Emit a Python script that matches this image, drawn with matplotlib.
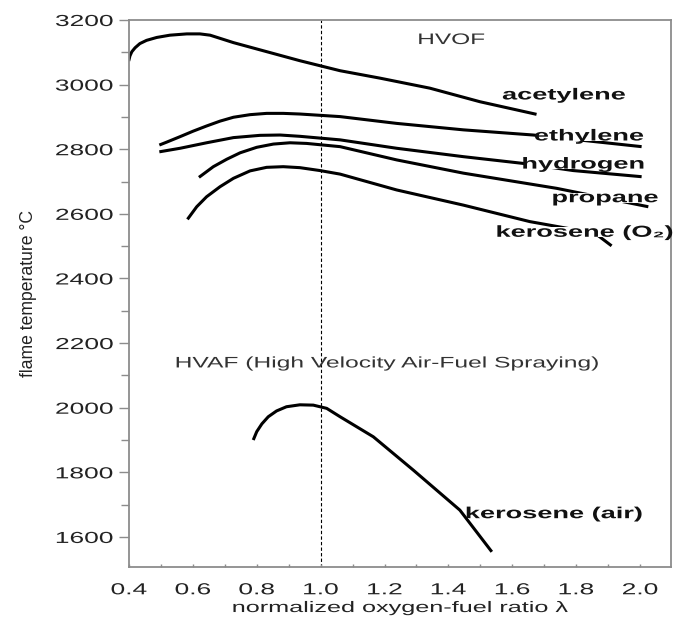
import numpy as np
import matplotlib
matplotlib.use("Agg")
import matplotlib.pyplot as plt
from matplotlib.patheffects import AbstractPathEffect
from matplotlib.transforms import Affine2D
from matplotlib.ticker import MultipleLocator

# flame temperature (degC) vs normalized oxygen-fuel ratio
acet_x = [0.399, 0.403, 0.409, 0.419, 0.434, 0.455, 0.487, 0.528, 0.581, 0.622, 0.654,
          0.727, 0.831, 0.935, 1.061, 1.186, 1.342, 1.499, 1.676]
acet_y = [3073, 3089, 3102, 3114, 3127, 3137, 3146, 3153, 3157, 3157, 3153,
          3130, 3102, 3074, 3043, 3020, 2989, 2947, 2908]

ethy_x = [0.495, 0.518, 0.56, 0.601, 0.643, 0.685, 0.727, 0.779, 0.831, 0.883, 0.935,
          0.998, 1.061, 1.238, 1.447, 1.666, 2.005]
ethy_y = [2813, 2822, 2839, 2856, 2872, 2887, 2899, 2907, 2911, 2911, 2909,
          2905, 2901, 2880, 2860, 2844, 2808]

hydr_x = [0.495, 0.56, 0.643, 0.727, 0.81, 0.873, 0.935, 1.061, 1.238, 1.447, 1.635, 1.791, 2.005]
hydr_y = [2792, 2803, 2820, 2836, 2843, 2844, 2840, 2829, 2803, 2777, 2756, 2734, 2715]

prop_x = [0.619, 0.664, 0.706, 0.748, 0.8, 0.852, 0.904, 0.956, 1.061, 1.238, 1.447, 1.739, 2.026]
prop_y = [2713, 2746, 2769, 2789, 2806, 2816, 2820, 2818, 2808, 2767, 2726, 2679, 2622]

kero_x = [0.583, 0.612, 0.643, 0.685, 0.727, 0.779, 0.831, 0.883, 0.935, 0.998, 1.061,
          1.238, 1.447, 1.655, 1.859, 1.911]
kero_y = [2583, 2622, 2653, 2684, 2710, 2733, 2744, 2746, 2743, 2734, 2723,
          2674, 2627, 2576, 2540, 2501]

air_x = [0.789, 0.8, 0.816, 0.836, 0.862, 0.893, 0.935, 0.977, 1.019, 1.061, 1.165,
         1.29, 1.436, 1.536]
air_y = [1900, 1926, 1950, 1972, 1990, 2003, 2009, 2008, 1998, 1972, 1910,
         1807, 1683, 1554]

curves = [(acet_x, acet_y), (ethy_x, ethy_y), (hydr_x, hydr_y),
          (prop_x, prop_y), (kero_x, kero_y), (air_x, air_y)]

labels = ["acetylene", "ethylene", "hydrogen", "propane", "kerosene (O\u2082)", "kerosene (air)"]
label_x = [1.569, 1.669, 1.631, 1.725, 1.55, 1.454]
label_y = [2968, 2841, 2754, 2650, 2543, 1672]


class Widen(AbstractPathEffect):
    """stretch glyphs sideways, the source picture is squeezed like that"""
    def __init__(self, sx=1.65, anchor="left"):
        super().__init__()
        self.sx = sx
        self.anchor = anchor

    def draw_path(self, renderer, gc, tpath, affine, rgbFace=None):
        ext = tpath.get_extents(affine)
        if self.anchor == "left":
            a = ext.x0
        elif self.anchor == "right":
            a = ext.x1
        else:
            a = 0.5 * (ext.x0 + ext.x1)
        t = affine + Affine2D().translate(-a, 0).scale(self.sx, 1).translate(a, 0)
        renderer.draw_path(gc, tpath, t, rgbFace)


plt.rcParams['font.family'] = ['Liberation Sans', 'DejaVu Sans']

fig = plt.figure(figsize=(6.73, 6.22), dpi=100)
ax = fig.add_axes([129 / 673, 1 - 567 / 622, 542 / 673, 547 / 622])

for x, y in curves:
    ax.plot(x, y, color="black", lw=2.2, solid_capstyle="butt",
            solid_joinstyle="round", zorder=2)

ax.axvline(1.0, color="black", lw=0.8, ls=(0, (3, 2)), zorder=1)

for s, x, y in zip(labels, label_x, label_y):
    t = ax.text(x, y, s, fontsize=11.5, fontweight="bold", ha="left", va="center",
                color="#111111", zorder=3,
                bbox=dict(boxstyle="square,pad=-0.15", fc="white", ec="none"))
    t.set_path_effects([Widen(1.7, "left")])
    t.get_bbox_patch().set_path_effects([Widen(1.7, "left")])

t = ax.text(1.409, 3138, "HVOF", fontsize=11, ha="center", va="center", color="#333333")
t.set_path_effects([Widen(1.6, "center")])
t = ax.text(1.207, 2137, "HVAF (High Velocity Air-Fuel Spraying)", fontsize=11,
            ha="center", va="center", color="#333333")
t.set_path_effects([Widen(1.61, "center")])

ax.set_xlim(0.4, 2.097)
ax.set_ylim(1507, 3200)
ax.set_xticks(np.arange(0.4, 2.01, 0.2))
ax.set_yticks(np.arange(1600, 3201, 200))
ax.xaxis.set_minor_locator(MultipleLocator(0.1))
ax.yaxis.set_minor_locator(MultipleLocator(100))

for sp in ax.spines.values():
    sp.set_color("#8c8c8c")
    sp.set_linewidth(1.3)

ax.tick_params(axis="y", which="major", direction="out", length=7.5, width=1,
               color="#8c8c8c", labelcolor="#222222", labelsize=11.5, pad=4)
ax.tick_params(axis="y", which="minor", direction="out", length=6, width=1, color="#8c8c8c")
ax.tick_params(axis="x", which="both", direction="in", length=2.5, width=1,
               color="#8c8c8c", labelcolor="#222222", labelsize=11.5, pad=11)

for lab in ax.get_yticklabels():
    lab.set_path_effects([Widen(1.65, "right")])
for lab in ax.get_xticklabels():
    lab.set_path_effects([Widen(1.65, "center")])

ax.set_xlabel("normalized oxygen-fuel ratio \u03bb", fontsize=11, color="#222222")
ax.xaxis.label.set_va("center")
ax.xaxis.set_label_coords(0.5, -0.075)
ax.xaxis.label.set_path_effects([Widen(1.65, "center")])

ax.set_ylabel("flame temperature \u00b0C", fontsize=12.7, color="#222222")
ax.yaxis.label.set_va("center")
ax.yaxis.set_label_coords(-0.186, 0.5)

fig.savefig("out.png", dpi=100)
